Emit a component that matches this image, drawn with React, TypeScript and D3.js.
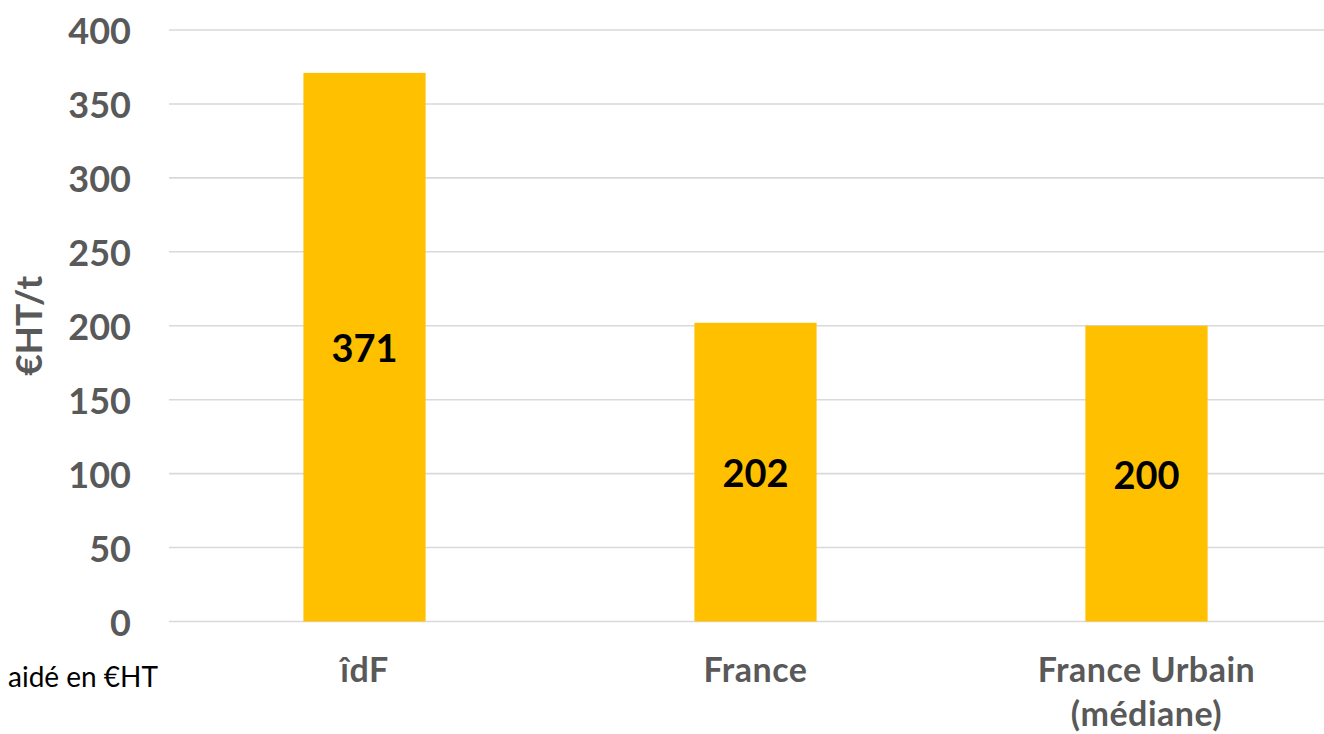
import React from "react";
import * as d3 from "d3";

const categories: string[][] = [["îdF"], ["France"], ["France Urbain", "(médiane)"]];
const values: number[] = [371, 202, 200];
const yTicks: number[] = [0, 50, 100, 150, 200, 250, 300, 350, 400];
const yTitle = "€HT/t";
const footNote = "aidé en €HT";

const W = 1324;
const H = 734;

export default function App() {
  const keys = categories.map((c) => c.join(" "));
  const x = d3
    .scaleBand<string>()
    .domain(keys)
    .range([169, 169 + 391 * 3])
    .paddingInner(0.6875)
    .paddingOuter(0.34375);
  const y = d3.scaleLinear().domain([0, 400]).range([621.5, 30]);
  const font = "Lato, 'Noto Sans', sans-serif";
  const gray = "#595959";

  return (
    <svg
      width={W}
      height={H}
      style={{ position: "absolute", left: 0, top: 0, background: "#fff" }}
      fontFamily={font}
    >
      {yTicks.map((t) => (
        <g key={t}>
          <line x1={169} x2={W} y1={y(t)} y2={y(t)} stroke="#d9d9d9" strokeWidth={1.6} />
          <text
            x={131}
            y={y(t)}
            textAnchor="end"
            dominantBaseline="central"
            fontSize={36}
            fontWeight={700}
            fill={gray}
          >
            {t}
          </text>
        </g>
      ))}
      {values.map((v, i) => {
        const k = keys[i];
        const bx = x(k)!;
        return (
          <g key={k}>
            <rect x={bx} y={y(v)} width={x.bandwidth()} height={y(0) - y(v)} fill="#FFC000" />
            <text
              x={bx + x.bandwidth() / 2}
              y={y(v / 2)}
              textAnchor="middle"
              dominantBaseline="central"
              fontSize={38}
              fontWeight={700}
              fill="#000"
            >
              {v}
            </text>
            {categories[i].map((line, j) => (
              <text
                key={j}
                x={bx + x.bandwidth() / 2}
                y={682 + j * 44}
                textAnchor="middle"
                fontSize={34}
                fontWeight={700}
                letterSpacing={0.5}
                fill={gray}
              >
                {line}
              </text>
            ))}
          </g>
        );
      })}
      <text
        transform={`translate(42, ${y(200)}) rotate(-90)`}
        textAnchor="middle"
        fontSize={37}
        fontWeight={700}
        fill={gray}
      >
        {yTitle}
      </text>
      <text x={8} y={687} fontSize={28} fill="#000">
        {footNote}
      </text>
    </svg>
  );
}
